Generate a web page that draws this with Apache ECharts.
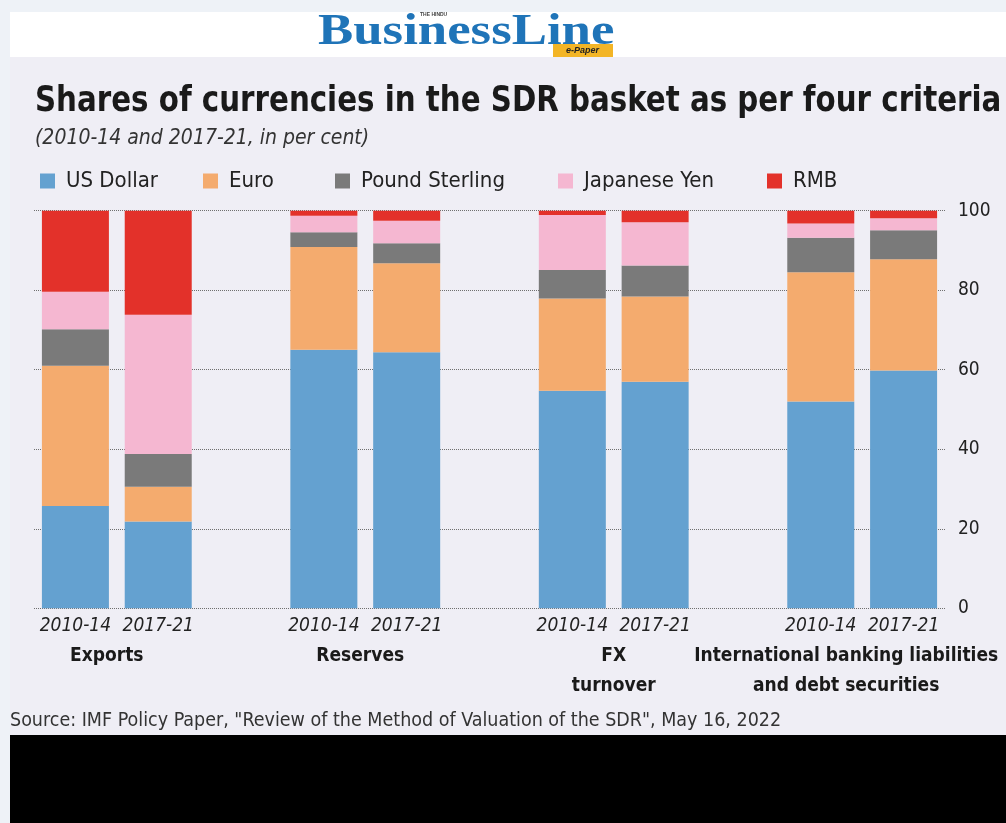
<!DOCTYPE html>
<html><head><meta charset="utf-8">
<script src="https://cdn.jsdelivr.net/npm/echarts@6/dist/echarts.min.js"></script>
<style>html,body{margin:0;padding:0;background:#eef2f7;}#c{width:1006px;height:823px;}</style>
</head><body><div id="c"></div>
<script>
// ---- data ----
const periods = ['2010-14', '2017-21'];
const groups = ['Exports', 'Reserves', 'FX\nturnover', 'International banking liabilities\nand debt securities'];
const currencies = ['US Dollar', 'Euro', 'Pound Sterling', 'Japanese Yen', 'RMB'];
// bar order: Exports 10-14, Exports 17-21, Reserves 10-14, Reserves 17-21, FX 10-14, FX 17-21, IBL 10-14, IBL 17-21
const usDollar      = [25.7, 21.8, 65.0, 64.4, 54.7, 57.0, 52.0, 59.8];
const euro          = [35.3,  8.8, 25.9, 22.4, 23.2, 21.4, 32.5, 28.0];
const poundSterling = [ 9.2,  8.2,  3.7,  5.0,  7.2,  7.8,  8.7,  7.3];
const japaneseYen   = [ 9.4, 35.0,  4.1,  5.7, 13.8, 10.9,  3.6,  3.0];
const rmb           = [20.4, 26.2,  1.3,  2.5,  1.1,  2.9,  3.2,  1.9];
const yTicks = [0, 20, 40, 60, 80, 100];
const titleText = 'Shares of currencies in the SDR basket as per four criteria';
const subtitleText = '(2010-14 and 2017-21, in per cent)';
const sourceText = 'Source: IMF Policy Paper, "Review of the Method of Valuation of the SDR", May 16, 2022';

// ---- build ----
const FONT = "'Liberation Sans Narrow','DejaVu Sans Condensed','Roboto Condensed','Liberation Sans',sans-serif";
const seriesValues = [usDollar, euro, poundSterling, japaneseYen, rmb];
const colors = ['#64a1d0', '#f4ab6e', '#7a7a7a', '#f5b7d1', '#e3312a'];

const categories = [];
const slotToBar = [];
const groupStartSlot = [];
let bi = 0;
groups.forEach((g, gi) => {
  groupStartSlot.push(categories.length);
  periods.forEach(p => { categories.push(p); slotToBar.push(bi++); });
  if (gi < groups.length - 1) { categories.push(''); slotToBar.push(-1); }
});
const groupAtTick = {};
groupStartSlot.forEach((s, gi) => { groupAtTick[s + 1] = gi; });
const groupPadRight = [20, 10, 0, 32];

const series = currencies.map((name, ci) => ({
  name, type: 'bar', stack: 'total', barWidth: 67, xAxisIndex: 0,
  itemStyle: { color: colors[ci] },
  data: slotToBar.map(b => b < 0 ? '-' : seriesValues[ci][b])
}));

const legendLefts = [40, 203, 335, 558, 767];
const legends = currencies.map((name, ci) => ({
  data: [name], left: legendLefts[ci], top: 170, padding: 0, icon: 'rect',
  itemWidth: 15, itemHeight: 15, selectedMode: false,
  textStyle: { fontFamily: FONT, fontSize: 22, color: '#222', padding: [0, 0, 0, 6] }
}));

const chart = echarts.init(document.getElementById('c'));
chart.setOption({
  backgroundColor: '#eef2f7',
  animation: false,
  graphic: [
    { type: 'rect', left: 10, top: 12, shape: { width: 996, height: 45 }, style: { fill: '#ffffff' }, z: -10 },
    { type: 'rect', left: 10, top: 57, shape: { width: 996, height: 678 }, style: { fill: '#efeef5' }, z: -10 },
    { type: 'rect', left: 10, top: 735, shape: { width: 996, height: 88 }, style: { fill: '#000000' }, z: -10 },
    { type: 'text', x: 318, y: 11, scaleX: 1.2, style: { text: 'BusinessLine', font: "bold 44px 'Liberation Serif','DejaVu Serif',serif", fill: '#1f74b8' } },
    { type: 'text', x: 420, y: 12, style: { text: 'THE HINDU', font: "bold 5px 'Liberation Sans',sans-serif", fill: '#444' } },
    { type: 'rect', x: 553, y: 44, shape: { width: 60, height: 13 }, style: { fill: '#f3b526' } },
    { type: 'text', x: 566, y: 46, style: { text: 'e-Paper', font: "bold italic 9px 'Liberation Sans',sans-serif", fill: '#222' } },
    { type: 'text', x: 35, y: 84, scaleX: 0.905, style: { text: titleText, font: "bold 36px " + FONT, fill: '#1a1a1a' } },
    { type: 'text', x: 35, y: 128, style: { text: subtitleText, font: "italic 21px " + FONT, fill: '#333' } },
    { type: 'text', x: 10, y: 711, style: { text: sourceText, font: "19.5px " + FONT, fill: '#333' } }
  ],
  legend: legends,
  grid: { left: 34, right: 61, top: 210.7, bottom: 214.7, containLabel: false, outerBoundsMode: 'none' },
  xAxis: [
    { type: 'category', data: categories, position: 'bottom',
      axisLine: { show: false }, axisTick: { show: false },
      axisLabel: { interval: 0, margin: 8, fontFamily: FONT, fontStyle: 'italic', fontSize: 19, color: '#222' } },
    { type: 'value', min: 0, max: categories.length, interval: 1, position: 'bottom',
      axisLine: { show: false }, axisTick: { show: false }, splitLine: { show: false },
      axisLabel: { margin: 33, fontFamily: FONT, fontWeight: 'bold', fontSize: 19, color: '#1a1a1a', lineHeight: 30,
        formatter: v => {
          const gi = groupAtTick[Math.round(v)];
          if (gi === undefined) return '';
          return groups[gi].split('\n').map(l => '{g' + gi + '|' + l + '}').join('\n');
        },
        rich: Object.fromEntries(groups.map((g, gi) => ['g' + gi, { fontFamily: FONT, fontWeight: 'bold', fontSize: 19, color: '#1a1a1a', lineHeight: 30, padding: [0, groupPadRight[gi], 0, 0] }]))
      } }
  ],
  yAxis: {
    type: 'value', position: 'right', min: yTicks[0], max: yTicks[yTicks.length - 1], interval: yTicks[1] - yTicks[0],
    axisLine: { show: false }, axisTick: { show: false },
    axisLabel: { margin: 13, fontFamily: FONT, fontSize: 19, color: '#222' },
    splitLine: { lineStyle: { type: 'dotted', color: '#6f6f6f', width: 1 } }
  },
  series
});
</script></body></html>
